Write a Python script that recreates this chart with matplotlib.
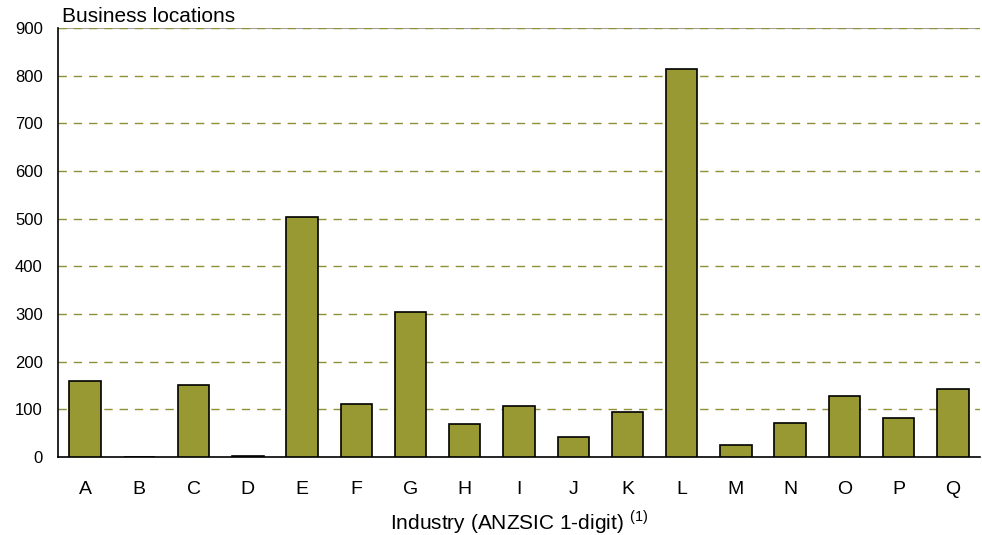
import matplotlib
matplotlib.use("Agg")
import matplotlib.pyplot as plt

plt.rcParams['font.family'] = ['Liberation Sans', 'DejaVu Sans']
plt.rcParams['mathtext.fontset'] = 'custom'
plt.rcParams['mathtext.rm'] = 'Liberation Sans'

# data
industries = ['A', 'B', 'C', 'D', 'E', 'F', 'G', 'H', 'I', 'J', 'K', 'L', 'M', 'N', 'O', 'P', 'Q']
locations = [160, 0, 151, 3, 503, 111, 304, 69, 107, 42, 94, 814, 25, 71, 128, 82, 143]
y_ticks = [0, 100, 200, 300, 400, 500, 600, 700, 800, 900]

bar_color = '#999933'
grid_color = '#8f8f3a'

fig = plt.figure(figsize=(9.82, 5.35), dpi=100)
ax = fig.add_axes([58 / 982, 1 - 457 / 535, 922 / 982, (457 - 28) / 535])

ax.bar(range(len(industries)), locations, width=0.58, color=bar_color,
       edgecolor='black', linewidth=1.2, zorder=3)

ax.set_xlim(-0.5, len(industries) - 0.5)
ax.set_ylim(0, 900)
ax.set_yticks(y_ticks)
ax.set_xticks(range(len(industries)))
ax.set_xticklabels(industries, fontsize=14)
ax.tick_params(axis='y', length=0, labelsize=12, pad=11)
ax.tick_params(axis='x', length=0, pad=17)

# dashed grid lines
for v in y_ticks[1:]:
    ax.axhline(v, color=grid_color, linewidth=1, dashes=(6, 5), zorder=1)
ax.axhline(900, color='#a0a0a0', linewidth=1.5, zorder=0.5)

ax.spines['top'].set_visible(False)
ax.spines['right'].set_visible(False)
ax.spines['left'].set_linewidth(1.2)
ax.spines['bottom'].set_linewidth(1.2)

fig.text(62 / 982, 1 - 16 / 535, 'Business locations', fontsize=15, va='center', ha='left')
fig.text(0.5 * (58 + 980) / 982, 1 - 522 / 535, 'Industry (ANZSIC 1-digit) $^{\\mathrm{(1)}}$',
         fontsize=15, va='center', ha='center')

fig.savefig('out.png', dpi=100, facecolor='white')
